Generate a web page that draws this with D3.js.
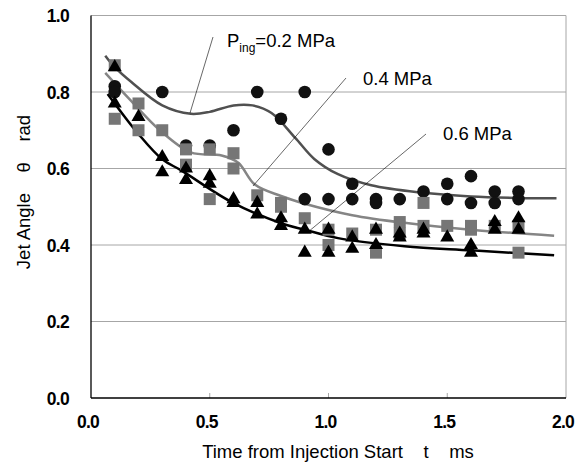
<!DOCTYPE html>
<html><head><meta charset="utf-8">
<script src="https://cdn.jsdelivr.net/npm/d3@7"></script>
<style>body{margin:0;background:#fff}svg{display:block}</style>
</head><body>
<svg id="c" width="577" height="468"></svg>
<script>
// ---- data ----
const xTicks = [0.0, 0.5, 1.0, 1.5, 2.0];
const yTicks = [0.0, 0.2, 0.4, 0.6, 0.8, 1.0];
// 0.2 MPa (circles)
const p02 = [[0.1,0.815],[0.1,0.80],[0.3,0.80],[0.4,0.66],[0.5,0.66],[0.6,0.70],[0.7,0.80],[0.8,0.73],
  [0.9,0.80],[0.9,0.52],[1.0,0.65],[1.0,0.52],[1.1,0.56],[1.1,0.52],[1.2,0.52],[1.2,0.51],[1.3,0.52],
  [1.4,0.54],[1.5,0.56],[1.5,0.52],[1.6,0.58],[1.6,0.51],[1.7,0.54],[1.7,0.51],[1.8,0.54],[1.8,0.52]];
// 0.4 MPa (squares)
const p04 = [[0.1,0.87],[0.1,0.73],[0.2,0.77],[0.2,0.70],[0.3,0.70],[0.4,0.65],[0.4,0.61],[0.5,0.65],[0.5,0.52],
  [0.6,0.64],[0.6,0.60],[0.7,0.53],[0.8,0.51],[0.8,0.50],[0.9,0.47],[1.0,0.44],[1.0,0.40],[1.1,0.43],
  [1.2,0.44],[1.2,0.38],[1.3,0.46],[1.3,0.43],[1.4,0.51],[1.4,0.45],[1.5,0.45],[1.6,0.44],[1.6,0.45],
  [1.7,0.45],[1.8,0.45],[1.8,0.38]];
// 0.6 MPa (triangles)
const p06 = [[0.1,0.865],[0.1,0.77],[0.2,0.735],[0.3,0.63],[0.3,0.59],[0.4,0.60],[0.4,0.57],[0.5,0.58],[0.5,0.56],
  [0.6,0.52],[0.6,0.51],[0.7,0.51],[0.7,0.48],[0.8,0.47],[0.8,0.45],[0.9,0.44],[0.9,0.38],[1.0,0.44],[1.0,0.38],
  [1.1,0.42],[1.1,0.39],[1.2,0.44],[1.2,0.40],[1.3,0.43],[1.3,0.42],[1.4,0.44],[1.4,0.43],[1.5,0.42],
  [1.6,0.40],[1.6,0.38],[1.7,0.46],[1.7,0.44],[1.8,0.47],[1.8,0.44]];
// fitted curves
const c02 = [[0.06,0.895],[0.1,0.865],[0.17,0.826],[0.3,0.765],[0.42,0.743],[0.5,0.748],[0.6,0.765],[0.68,0.765],
  [0.76,0.745],[0.86,0.68],[0.94,0.625],[1.04,0.585],[1.18,0.556],[1.39,0.537],[1.6,0.527],[1.8,0.523],[1.96,0.522]];
const c04 = [[0.06,0.85],[0.17,0.776],[0.29,0.70],[0.42,0.642],[0.55,0.634],[0.62,0.615],[0.69,0.558],[0.8,0.528],
  [0.9,0.508],[1.1,0.478],[1.32,0.458],[1.6,0.44],[1.95,0.424]];
const c06 = [[0.07,0.795],[0.2,0.69],[0.3,0.624],[0.38,0.595],[0.59,0.513],[0.8,0.457],[0.9,0.44],[1.04,0.418],
  [1.32,0.397],[1.6,0.386],[1.95,0.373]];

const svg = d3.select('#c');
const L = 91, R = 566, T = 15.5, B = 398;
const x = d3.scaleLinear().domain([0, 2]).range([L, R]);
const y = d3.scaleLinear().domain([0, 1]).range([B, T]);
const FF = 'Liberation Sans, Arial, sans-serif';

// grid
svg.append('g').selectAll('line').data(yTicks.filter(d => d > 0)).join('line')
  .attr('x1', L).attr('x2', R).attr('y1', d => y(d)).attr('y2', d => y(d))
  .attr('stroke', '#a6a6a6').attr('stroke-width', 1);
svg.append('line').attr('x1', R).attr('x2', R).attr('y1', T).attr('y2', B).attr('stroke', '#a6a6a6');
// x minor ticks
svg.append('g').selectAll('line').data(xTicks.filter(d => d > 0 && d < 2)).join('line')
  .attr('x1', d => x(d)).attr('x2', d => x(d)).attr('y1', B).attr('y2', B - 5)
  .attr('stroke', '#a6a6a6');
// axes
svg.append('line').attr('x1', L).attr('x2', L).attr('y1', T).attr('y2', B).attr('stroke', '#000').attr('stroke-width', 1.3);
svg.append('line').attr('x1', L).attr('x2', R).attr('y1', B).attr('y2', B).attr('stroke', '#000').attr('stroke-width', 1.3);

// tick labels
svg.append('g').selectAll('text').data(yTicks).join('text')
  .attr('x', 69).attr('y', d => y(d) + 6.5).attr('text-anchor', 'end')
  .attr('font-family', FF).attr('font-weight', 'bold')
  .attr('font-size', 17.5).attr('letter-spacing', -0.7).text(d => d.toFixed(1));
svg.append('g').selectAll('text').data(xTicks).join('text')
  .attr('x', d => x(d) - 3).attr('y', 428).attr('text-anchor', 'middle')
  .attr('font-family', FF).attr('font-weight', 'bold')
  .attr('font-size', 17.5).attr('letter-spacing', -0.7).text(d => d.toFixed(1));

// axis titles
svg.append('text').attr('x', 338).attr('y', 458).attr('text-anchor', 'middle')
  .attr('font-family', FF).attr('font-size', 18.5)
  .style('white-space', 'pre')
  .text('Time from Injection Start    t    ms');
svg.append('text').attr('transform', 'translate(30,192) rotate(-90)').attr('text-anchor', 'middle')
  .attr('font-family', FF).attr('font-size', 18.5)
  .style('white-space', 'pre').text('Jet Angle    θ    rad');

// curves
const line = d3.line().x(d => x(d[0])).y(d => y(d[1])).curve(d3.curveCatmullRom.alpha(0.5));
[[c02, '#505050'], [c04, '#858585'], [c06, '#000']].forEach(([c, col]) => {
  svg.append('path').attr('d', line(c)).attr('fill', 'none').attr('stroke', col).attr('stroke-width', 2.5);
});

// markers
svg.append('g').selectAll('circle').data(p02).join('circle')
  .attr('cx', d => x(d[0])).attr('cy', d => y(d[1])).attr('r', 6.3).attr('fill', '#111');
svg.append('g').selectAll('rect').data(p04).join('rect')
  .attr('x', d => x(d[0]) - 6).attr('y', d => y(d[1]) - 6).attr('width', 12).attr('height', 12).attr('fill', '#767676');
const tri = d3.symbol().type(d3.symbolTriangle).size(85);
svg.append('g').selectAll('path').data(p06).join('path')
  .attr('transform', d => `translate(${x(d[0])},${y(d[1])})`).attr('d', tri).attr('fill', '#000');

// leader lines and labels
const leaders = [[213, 37, 190, 113], [346, 78, 253, 186], [426, 134, 308, 232]];
svg.append('g').selectAll('line').data(leaders).join('line')
  .attr('x1', d => d[0]).attr('y1', d => d[1]).attr('x2', d => d[2]).attr('y2', d => d[3])
  .attr('stroke', '#000').attr('stroke-width', 0.6);
const lab = svg.append('text').attr('x', 227).attr('y', 47)
  .attr('font-family', FF).attr('font-size', 18.5);
lab.append('tspan').text('P');
lab.append('tspan').attr('dy', 5).attr('font-size', 12).text('ing');
lab.append('tspan').attr('dy', -5).text('=0.2 MPa');
svg.append('text').attr('x', 363).attr('y', 85).attr('font-family', FF)
  .attr('font-size', 18.5).text('0.4 MPa');
svg.append('text').attr('x', 443).attr('y', 140).attr('font-family', FF)
  .attr('font-size', 18.5).text('0.6 MPa');
</script>
</body></html>
